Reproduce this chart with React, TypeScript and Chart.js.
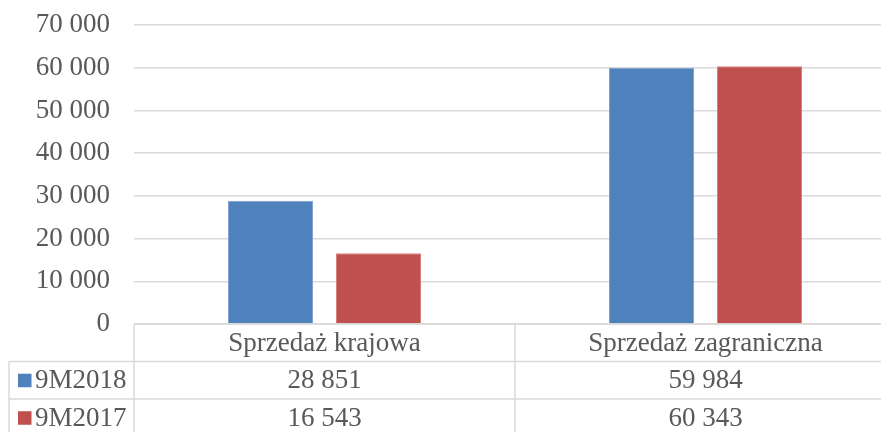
import React, { useEffect, useRef } from "react";
import { Chart, registerables } from "chart.js";

Chart.register(...registerables);

const categories = ["Sprzedaż krajowa", "Sprzedaż zagraniczna"];
const seriesNames = ["9M2018", "9M2017"];
const values2018 = [28851, 59984];
const values2017 = [16543, 60343];
const seriesColors = ["#4F81BD", "#C0504D"];
const yTicks = [0, 10000, 20000, 30000, 40000, 50000, 60000, 70000];

const FONT = "'Liberation Serif', 'Times New Roman', serif";
const TEXT = "#595959";
const LINE = "#d9d9d9";
const FS = 27;

const fmt = (v: number) => String(v).replace(/\B(?=(\d{3})+(?!\d))/g, " ");

const tablePlugin = {
  id: "dataTable",
  afterDraw(chart: any) {
    const ctx = chart.ctx as CanvasRenderingContext2D;
    const area = chart.chartArea;
    const xs = chart.scales.x;
    const n = categories.length;
    const centers = categories.map((_, i) => xs.getPixelForValue(i));
    const half = n > 1 ? (centers[1] - centers[0]) / 2 : (area.right - area.left) / 2;
    const rowH = 37.5;
    const top = area.bottom;
    const legendLeft = 9;
    const W = chart.width;
    const H = chart.height;
    const rows = [values2018, values2017];

    ctx.save();
    ctx.strokeStyle = LINE;
    ctx.lineWidth = 1.5;
    ctx.beginPath();
    ctx.moveTo(area.left, top);
    ctx.lineTo(W, top);
    for (let r = 1; r <= rows.length; r++) {
      ctx.moveTo(legendLeft, top + rowH * r);
      ctx.lineTo(W, top + rowH * r);
    }
    ctx.moveTo(area.left, top);
    ctx.lineTo(area.left, H);
    for (let i = 0; i < n; i++) {
      const b = centers[i] + half;
      ctx.moveTo(b, top);
      ctx.lineTo(b, H);
    }
    ctx.moveTo(legendLeft, top + rowH);
    ctx.lineTo(legendLeft, H);
    ctx.stroke();

    ctx.fillStyle = TEXT;
    ctx.font = `${FS}px ${FONT}`;
    ctx.textAlign = "center";
    ctx.textBaseline = "middle";
    categories.forEach((c, i) => {
      ctx.fillText(c, centers[i], top + rowH / 2 + 1);
    });
    rows.forEach((vals, r) => {
      const cy = top + rowH * (r + 1) + rowH / 2 + 1;
      vals.forEach((v, i) => {
        ctx.fillStyle = TEXT;
        ctx.textAlign = "center";
        ctx.fillText(fmt(v), centers[i], cy);
      });
      ctx.fillStyle = seriesColors[r];
      ctx.fillRect(18, cy - 7.5, 13.5, 13.5);
      ctx.fillStyle = TEXT;
      ctx.textAlign = "left";
      ctx.fillText(seriesNames[r], 35, cy);
    });
    ctx.restore();
  },
};

export default function App() {
  const ref = useRef<HTMLCanvasElement | null>(null);
  useEffect(() => {
    if (!ref.current) return;
    const chart = new Chart(ref.current, {
      type: "bar",
      data: {
        labels: categories,
        datasets: [
          {
            label: seriesNames[0],
            data: values2018,
            backgroundColor: seriesColors[0],
            borderColor: "#7fa3d3",
            borderWidth: 1,
            categoryPercentage: 0.567,
            barPercentage: 0.787,
          },
          {
            label: seriesNames[1],
            data: values2017,
            backgroundColor: seriesColors[1],
            borderColor: "#d77f7c",
            borderWidth: 1,
            categoryPercentage: 0.567,
            barPercentage: 0.787,
          },
        ],
      },
      options: {
        animation: false,
        responsive: false,
        layout: { padding: { top: 25, bottom: 108, left: 0, right: 4 } },
        plugins: { legend: { display: false }, tooltip: { enabled: false } },
        scales: {
          x: { display: false },
          y: {
            min: 0,
            max: 70000,
            afterFit: (s: any) => {
              s.width = 134;
              s.paddingTop = 0;
              s.paddingBottom = 0;
            },
            afterBuildTicks: (s: any) => {
              s.ticks = yTicks.map((v) => ({ value: v }));
            },
            border: { display: false },
            grid: { color: LINE, lineWidth: 1.5, drawTicks: false },
            ticks: {
              padding: 24,
              color: TEXT,
              font: { family: FONT, size: FS },
              callback: (v: any) => fmt(Number(v)),
            },
          },
        },
      },
      plugins: [tablePlugin],
    });
    return () => chart.destroy();
  }, []);
  return (
    <div style={{ position: "absolute", left: 0, top: 0, width: 881, height: 432, overflow: "hidden", background: "#fff" }}>
      <canvas ref={ref} width={900} height={432} style={{ width: 900, height: 432, display: "block" }} />
    </div>
  );
}
